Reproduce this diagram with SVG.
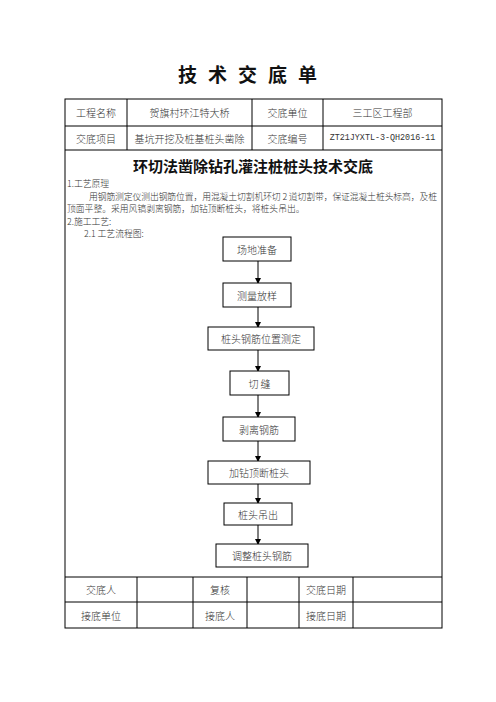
<svg xmlns="http://www.w3.org/2000/svg" width="496" height="702" viewBox="0 0 496 702">
<defs>
<style>
.t{font-family:"Noto Sans CJK SC","Liberation Serif",sans-serif;font-size:10px;fill:#333;font-weight:300;text-anchor:middle;dominant-baseline:central}
.b{font-family:"Noto Sans CJK SC","Liberation Serif",sans-serif;font-size:8.8px;fill:#333;font-weight:300;dominant-baseline:central}
.mono{font-family:"Liberation Mono",monospace;font-size:8.4px;fill:#333;text-anchor:middle;dominant-baseline:central}
.grid{stroke:#000;stroke-width:1;fill:none}
.box rect{fill:#fff;stroke:#000;stroke-width:1}
.conn line{stroke:#000;stroke-width:1}
</style>
<marker id="ah" markerWidth="6" markerHeight="6" refX="5" refY="3" orient="auto" markerUnits="userSpaceOnUse">
<path d="M0,0 L6,3 L0,6 z" fill="#000"/>
</marker>
</defs>
<rect width="496" height="702" fill="#fff"/>
<text x="253" y="73" style="font-family:'Noto Sans CJK SC',sans-serif;font-size:19px;font-weight:700;fill:#111;text-anchor:middle;dominant-baseline:central;letter-spacing:11px">技术交底单</text>

<g id="table">
<rect class="grid" x="65" y="99" width="377" height="529"/>
<line class="grid" x1="65" y1="126" x2="442" y2="126"/>
<line class="grid" x1="65" y1="150" x2="442" y2="150"/>
<line class="grid" x1="127" y1="99" x2="127" y2="150"/>
<line class="grid" x1="252" y1="99" x2="252" y2="150"/>
<line class="grid" x1="323" y1="99" x2="323" y2="150"/>
<line class="grid" x1="65" y1="577" x2="442" y2="577"/>
<line class="grid" x1="65" y1="602" x2="442" y2="602"/>
<line class="grid" x1="137" y1="577" x2="137" y2="628"/>
<line class="grid" x1="193" y1="577" x2="193" y2="628"/>
<line class="grid" x1="247" y1="577" x2="247" y2="628"/>
<line class="grid" x1="299" y1="577" x2="299" y2="628"/>
<line class="grid" x1="353" y1="577" x2="353" y2="628"/>
<text class="t" x="96" y="112.5">工程名称</text>
<text class="t" x="189.5" y="112.5">贺旗村环江特大桥</text>
<text class="t" x="287.5" y="112.5">交底单位</text>
<text class="t" x="382.5" y="112.5">三工区工程部</text>
<text class="t" x="96" y="138">交底项目</text>
<text class="t" x="189.5" y="138">基坑开挖及桩基桩头凿除</text>
<text class="t" x="287.5" y="138">交底编号</text>
<text class="mono" x="382.5" y="138">ZT21JYXTL-3-QH2016-11</text>
<text class="t" x="101" y="589.5">交底人</text>
<text class="t" x="220" y="589.5">复核</text>
<text class="t" x="326" y="589.5">交底日期</text>
<text class="t" x="101" y="615">接底单位</text>
<text class="t" x="220" y="615">接底人</text>
<text class="t" x="326" y="615">接底日期</text>
</g>

<text x="253" y="165" style="font-family:'Noto Sans CJK SC',sans-serif;font-size:15px;font-weight:700;fill:#111;text-anchor:middle;dominant-baseline:central">环切法凿除钻孔灌注桩桩头技术交底</text>
<text class="b" x="67" y="183">1.工艺原理</text>
<text class="b" x="89" y="196" textLength="348" lengthAdjust="spacing">用钢筋测定仪测出钢筋位置，用混凝土切割机环切 2 道切割带，保证混凝土桩头标高，及桩</text>
<text class="b" x="67" y="208.5">顶面平整。采用风镐剥离钢筋，加钻顶断桩头，将桩头吊出。</text>
<text class="b" x="67" y="221">2.施工工艺:</text>
<text class="b" x="84" y="233">2.1 工艺流程图:</text>

<g id="connectors" class="conn">
<line x1="258" y1="261" x2="258" y2="283" marker-end="url(#ah)"/>
<line x1="258" y1="307" x2="258" y2="327" marker-end="url(#ah)"/>
<line x1="258" y1="350" x2="258" y2="371" marker-end="url(#ah)"/>
<line x1="258" y1="395" x2="258" y2="417" marker-end="url(#ah)"/>
<line x1="258" y1="441" x2="258" y2="461" marker-end="url(#ah)"/>
<line x1="258" y1="484" x2="258" y2="503" marker-end="url(#ah)"/>
<line x1="258" y1="525" x2="258" y2="544" marker-end="url(#ah)"/>
</g>

<g id="n1" class="box"><rect x="223" y="237" width="68" height="24"/><text class="t" x="257" y="249">场地准备</text></g>
<g id="n2" class="box"><rect x="223" y="283" width="68" height="24"/><text class="t" x="257" y="295">测量放样</text></g>
<g id="n3" class="box"><rect x="208" y="327" width="106" height="23"/><text class="t" x="261" y="338.5">桩头钢筋位置测定</text></g>
<g id="n4" class="box"><rect x="230" y="371" width="59" height="24"/><text class="t" x="259.5" y="383">切 缝</text></g>
<g id="n5" class="box"><rect x="223" y="417" width="72" height="24"/><text class="t" x="259" y="429">剥离钢筋</text></g>
<g id="n6" class="box"><rect x="208" y="461" width="102" height="23"/><text class="t" x="259" y="472.5">加钻顶断桩头</text></g>
<g id="n7" class="box"><rect x="224" y="503" width="68" height="22"/><text class="t" x="258" y="514">桩头吊出</text></g>
<g id="n8" class="box"><rect x="216" y="544" width="92" height="23"/><text class="t" x="262" y="555.5">调整桩头钢筋</text></g>
</svg>
